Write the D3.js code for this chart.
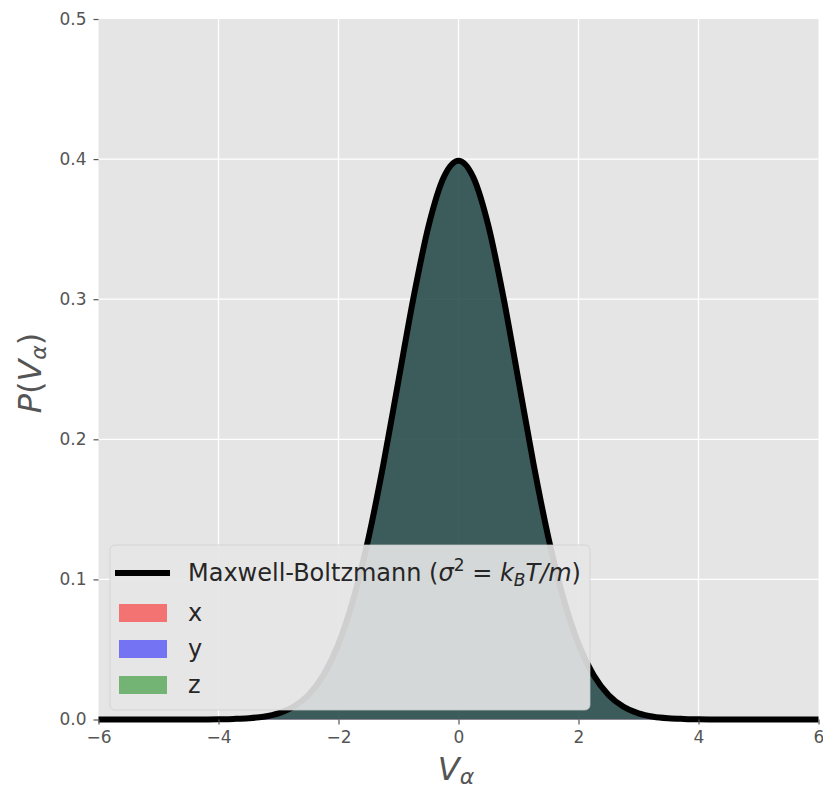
<!DOCTYPE html>
<html>
<head>
<meta charset="utf-8">
<script src="https://cdn.jsdelivr.net/npm/d3@7"></script>
<style>
  body { margin: 0; background: #fff; }
  text { font-family: "DejaVu Sans", sans-serif; }
</style>
</head>
<body>
<svg id="chart" width="823" height="790"></svg>
<script>
// histogram densities, bin centres -3.25 .. 3.25 step 0.1
const histX = [
  .002,.003,.004,.005,.007,.009,.012,.016,.019,.025,.032,.040,.049,.059,.072,.087,.102,.119,.140,.160,.182,.207,.229,.255,.277,.302,.322,.344,.362,.376,.388,.395,.397,
  .398,.393,.386,.376,.361,.342,.324,.300,.279,.253,.230,.206,.183,.159,.140,.120,.103,.086,.072,.060,.048,.040,.031,.025,.020,.015,.012,.009,.007,.005,.004,.003,.002
];
const histY = [
  .002,.003,.004,.005,.007,.009,.012,.015,.020,.025,.031,.040,.049,.060,.072,.086,.101,.120,.139,.161,.183,.205,.230,.253,.278,.300,.323,.342,.360,.374,.385,.392,.397,
  .399,.395,.387,.376,.361,.344,.323,.302,.278,.255,.229,.207,.182,.161,.139,.121,.102,.087,.071,.060,.049,.039,.032,.025,.020,.016,.012,.009,.007,.005,.004,.003,.002
];
const histZ = [
  .002,.003,.004,.005,.007,.009,.012,.015,.020,.025,.032,.039,.049,.060,.073,.086,.102,.120,.139,.160,.183,.206,.230,.254,.279,.301,.324,.344,.362,.376,.388,.395,.398,
  .397,.392,.385,.374,.360,.342,.322,.300,.278,.254,.230,.205,.183,.160,.139,.120,.102,.086,.072,.059,.049,.040,.032,.026,.019,.015,.012,.009,.007,.005,.004,.003,.002
];
const binWidth = 0.1;
const binStart = -3.3;

// Maxwell-Boltzmann curve
const mbV = [-6,-5.5,-5,-4.5,-4.25,-4,-3.75,-3.5,-3.25,-3,-2.75,-2.5,-2.25,-2,-1.75,-1.5,-1.25,-1,-0.75,-0.5,-0.25,0,
             0.25,0.5,0.75,1,1.25,1.5,1.75,2,2.25,2.5,2.75,3,3.25,3.5,3.75,4,4.25,4.5,5,5.5,6];
const mbP = [0,0,0,.00002,.00005,.0001,.0004,.0009,.0020,.0044,.0091,.0175,.0317,.0540,.0863,.1295,.1826,.2420,.3011,.3521,.3867,.3989,
             .3867,.3521,.3011,.2420,.1826,.1295,.0863,.0540,.0317,.0175,.0091,.0044,.0020,.0009,.0004,.0001,.00005,.00002,0,0,0];

const xTicks = [-6, -4, -2, 0, 2, 4, 6];
const yTicks = [0, 0.1, 0.2, 0.3, 0.4, 0.5];
const seriesNames = ["x", "y", "z"];
const seriesColors = ["#ff0000", "#0000ff", "#008000"];

const svg = d3.select("#chart");
const pLeft = 98.5, pRight = 818.5, pTop = 19, pBottom = 719.5;

const x = d3.scaleLinear().domain([-6, 6]).range([pLeft, pRight]);
const y = d3.scaleLinear().domain([0, 0.5]).range([pBottom, pTop]);

// background + grid
svg.append("rect")
  .attr("x", pLeft).attr("y", pTop)
  .attr("width", pRight - pLeft).attr("height", pBottom - pTop)
  .attr("fill", "#e5e5e5");

svg.append("g").selectAll("line")
  .data(xTicks.slice(1, -1)).join("line")
    .attr("x1", d => x(d)).attr("x2", d => x(d))
    .attr("y1", pTop).attr("y2", pBottom)
    .attr("stroke", "#fff").attr("stroke-width", 1.3);

svg.append("g").selectAll("line")
  .data(yTicks.slice(1, -1)).join("line")
    .attr("y1", d => y(d)).attr("y2", d => y(d))
    .attr("x1", pLeft).attr("x2", pRight)
    .attr("stroke", "#fff").attr("stroke-width", 1.3);

// histograms (fine bins, drawn as filled areas)
const hists = [histX, histY, histZ];
const area = d3.area()
  .x(d => x(d[0]))
  .y0(y(0))
  .y1(d => y(d[1]))
  .curve(d3.curveMonotoneX);

hists.forEach((h, k) => {
  const pts = [[binStart, 0]];
  h.forEach((v, i) => pts.push([binStart + binWidth * (i + 0.5), v]));
  pts.push([binStart + binWidth * h.length, 0]);
  svg.append("path")
    .datum(pts)
    .attr("d", area)
    .attr("fill", seriesColors[k])
    .attr("fill-opacity", 0.5);
});

// curve
const line = d3.line()
  .x((d, i) => x(mbV[i]))
  .y(d => y(d))
  .curve(d3.curveMonotoneX);

svg.append("path")
  .datum(mbP)
  .attr("d", line)
  .attr("fill", "none")
  .attr("stroke", "#000")
  .attr("stroke-width", 6)
  .attr("stroke-linejoin", "round");

// axes
const xAxis = svg.append("g")
  .attr("transform", `translate(0,${pBottom})`)
  .call(d3.axisBottom(x).tickValues(xTicks).tickSize(5).tickPadding(6)
        .tickFormat(d => d < 0 ? "\u2212" + Math.abs(d) : d));
const yAxis = svg.append("g")
  .attr("transform", `translate(${pLeft},0)`)
  .call(d3.axisLeft(y).tickValues(yTicks).tickSize(5).tickPadding(7)
        .tickFormat(d3.format(".1f")));

[xAxis, yAxis].forEach(a => {
  a.select(".domain").remove();
  a.selectAll(".tick line").attr("stroke", "#555").attr("stroke-width", 1.2);
  a.selectAll(".tick text").attr("fill", "#555").style("font-size", "17px")
    .style("font-family", "DejaVu Sans, sans-serif");
});

// axis labels
const xl = svg.append("text")
  .attr("x", 456).attr("y", 780)
  .attr("text-anchor", "middle")
  .attr("fill", "#555")
  .style("font-size", "32px");
xl.append("tspan").style("font-style", "italic").text("V");
xl.append("tspan").style("font-style", "italic").style("font-size", "22px").attr("dy", 4).text("\u03b1");

const yl = svg.append("text")
  .attr("transform", "translate(41,373) rotate(-90)")
  .attr("text-anchor", "middle")
  .attr("fill", "#555")
  .style("font-size", "32px");
yl.append("tspan").style("font-style", "italic").text("P");
yl.append("tspan").text("(");
yl.append("tspan").style("font-style", "italic").text("V");
yl.append("tspan").style("font-style", "italic").style("font-size", "22px").attr("dy", 5).text("\u03b1");
yl.append("tspan").attr("dy", -5).text(")");

// legend
const lg = svg.append("g");
lg.append("rect")
  .attr("x", 110).attr("y", 545)
  .attr("width", 480).attr("height", 165)
  .attr("rx", 5)
  .attr("fill", "#e5e5e5")
  .attr("fill-opacity", 0.9)
  .attr("stroke", "#cccccc")
  .attr("stroke-opacity", 0.7);

lg.append("line")
  .attr("x1", 115).attr("x2", 170)
  .attr("y1", 573).attr("y2", 573)
  .attr("stroke", "#000").attr("stroke-width", 6);

const mt = lg.append("text")
  .attr("x", 188).attr("y", 581)
  .attr("fill", "#262626")
  .style("font-size", "24px");
mt.append("tspan").text("Maxwell-Boltzmann (");
mt.append("tspan").style("font-style", "italic").text("\u03c3");
mt.append("tspan").style("font-size", "17px").attr("dy", -10).text("2");
mt.append("tspan").attr("dy", 10).text(" = ");
mt.append("tspan").style("font-style", "italic").text("k");
mt.append("tspan").style("font-style", "italic").style("font-size", "17px").attr("dy", 5).text("B");
mt.append("tspan").style("font-style", "italic").attr("dy", -5).text("T/m");
mt.append("tspan").text(")");

seriesNames.forEach((name, i) => {
  lg.append("rect")
    .attr("x", 119).attr("y", 604 + i * 36)
    .attr("width", 48).attr("height", 18)
    .attr("fill", seriesColors[i])
    .attr("fill-opacity", 0.5);
  lg.append("text")
    .attr("x", 188).attr("y", 621 + i * 36)
    .attr("fill", "#262626")
    .style("font-size", "24px")
    .text(name);
});
</script>
</body>
</html>
